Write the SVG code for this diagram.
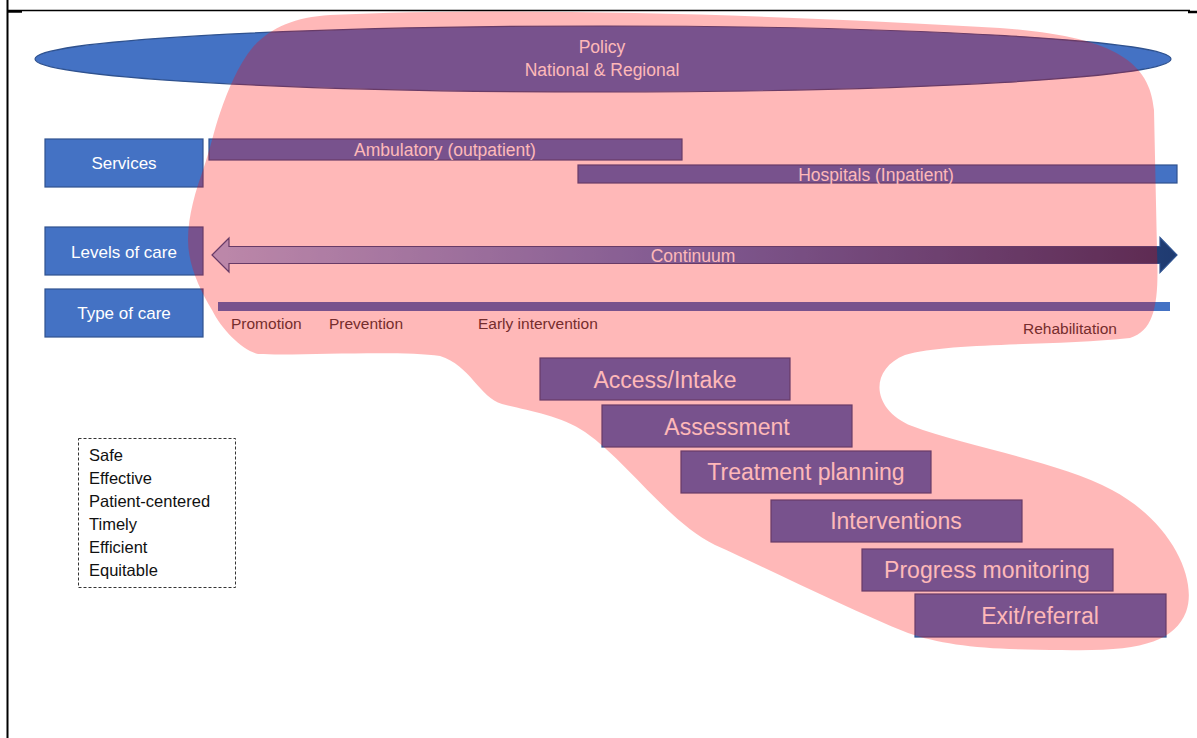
<svg xmlns="http://www.w3.org/2000/svg" width="1197" height="738" viewBox="0 0 1197 738">
  <style>
    .blue { fill: #4472C4; stroke: #2F528F; stroke-width: 1.2; }
    .lbl { font-family: "Liberation Sans", Arial, sans-serif; fill: #FFFFFF; text-anchor: middle; }
    .mid { font-size: 17.5px; }
    .big { font-size: 23px; }
    .care { font-family: "Liberation Sans", Arial, sans-serif; font-size: 15.5px; fill: #404040; }
    .qual { font-family: "Liberation Sans", Arial, sans-serif; font-size: 16.5px; fill: #111111; }
  </style>
  <defs>
    <linearGradient id="contGrad" gradientUnits="userSpaceOnUse" x1="212" y1="0" x2="1177" y2="0">
      <stop offset="0" stop-color="#A4BDEB"/>
      <stop offset="0.5" stop-color="#4F7BC8"/>
      <stop offset="1" stop-color="#1F3A70"/>
    </linearGradient>
  </defs>

  <rect width="1197" height="738" fill="#FFFFFF"/>

  <!-- page frame -->
  <g id="frame" stroke="#000000" fill="none">
    <line x1="7.5" y1="0" x2="7.5" y2="738" stroke-width="2"/>
    <line x1="7" y1="10.5" x2="1190" y2="10.5" stroke-width="1.5"/>
    <line x1="7" y1="11.5" x2="22" y2="11.5" stroke-width="2.5"/>
    <line x1="1188" y1="12" x2="1197" y2="12" stroke-width="2.5"/>
  </g>

  <!-- policy ellipse -->
  <g id="policy">
    <ellipse cx="603" cy="59" rx="568" ry="33" class="blue"/>
    <text class="lbl mid" x="602" y="53">Policy</text>
    <text class="lbl mid" x="602" y="76">National &amp; Regional</text>
  </g>

  <!-- row headers -->
  <g id="services">
    <rect x="45" y="139" width="158" height="48" class="blue"/>
    <text class="lbl" font-size="17" x="124" y="169">Services</text>
  </g>
  <g id="levels">
    <rect x="45" y="227" width="158" height="48" class="blue"/>
    <text class="lbl" font-size="17" x="124" y="258">Levels of care</text>
  </g>
  <g id="type">
    <rect x="45" y="289" width="158" height="48" class="blue"/>
    <text class="lbl" font-size="17" x="124" y="319">Type of care</text>
  </g>

  <!-- service bars -->
  <g id="ambulatory">
    <rect x="209" y="139" width="473" height="21" class="blue"/>
    <text class="lbl mid" x="445" y="156">Ambulatory (outpatient)</text>
  </g>
  <g id="hospitals">
    <rect x="578" y="165" width="599" height="18" class="blue"/>
    <text class="lbl mid" x="876" y="181">Hospitals (Inpatient)</text>
  </g>

  <!-- continuum arrow and type-of-care axis -->
  <g id="connectors">
    <path d="M212,255 L229,238 L229,246.5 L1160,246.5 L1160,237.5 L1177,255 L1160,272.5 L1160,263.5 L229,263.5 L229,272 Z" fill="url(#contGrad)" stroke="#2F528F" stroke-width="1.2"/>
    <rect x="218" y="302" width="952" height="9" fill="#4472C4"/>
  </g>
  <g id="continuum">
    <text class="lbl mid" x="693" y="262">Continuum</text>
  </g>
  <g id="care-types">
    <text class="care" x="231" y="329">Promotion</text>
    <text class="care" x="329" y="329">Prevention</text>
    <text class="care" x="478" y="329">Early intervention</text>
    <text class="care" x="1023" y="334">Rehabilitation</text>
  </g>

  <!-- process steps -->
  <g id="access">
    <rect x="540" y="358" width="250" height="42" class="blue"/>
    <text class="lbl big" x="665" y="388">Access/Intake</text>
  </g>
  <g id="assessment">
    <rect x="602" y="405" width="250" height="42" class="blue"/>
    <text class="lbl big" x="727" y="435">Assessment</text>
  </g>
  <g id="planning">
    <rect x="681" y="451" width="250" height="42" class="blue"/>
    <text class="lbl big" x="806" y="480">Treatment planning</text>
  </g>
  <g id="interventions">
    <rect x="771" y="500" width="251" height="42" class="blue"/>
    <text class="lbl big" x="896" y="529">Interventions</text>
  </g>
  <g id="monitoring">
    <rect x="862" y="549" width="251" height="42" class="blue"/>
    <text class="lbl big" x="987" y="578">Progress monitoring</text>
  </g>
  <g id="exit">
    <rect x="915" y="594" width="251" height="43" class="blue"/>
    <text class="lbl big" x="1040" y="624">Exit/referral</text>
  </g>

  <!-- translucent scope region laid over the care system -->
  <path id="scope" fill="#FF0000" fill-opacity="0.28"
        d="M330,15 C520,6 800,16 1000,28 C1110,36 1150,60 1154,110 L1157,250 C1159,300 1156,330 1130,338 C1060,346 950,342 905,355 C868,370 872,410 912,426 C965,446 1060,462 1112,490 C1172,522 1198,580 1186,612 C1174,642 1140,652 1062,650 C990,650 945,646 908,633 C850,610 775,572 715,545 C668,522 628,462 585,432 C560,415 525,410 502,404 C480,398 470,365 440,356 C400,350 300,356 258,354 C242,350 222,330 212,310 C200,290 188,265 188,240 C188,215 196,190 203,170 C210,150 214,130 220,113 C228,90 238,65 253,47 C270,28 295,17 330,15 Z"/>

  <!-- quality aims -->
  <g id="aims">
    <rect x="78.5" y="438.5" width="157" height="149" fill="none" stroke="#333333" stroke-width="1" stroke-dasharray="3,2"/>
    <text class="qual" x="89" y="461">Safe</text>
    <text class="qual" x="89" y="484">Effective</text>
    <text class="qual" x="89" y="507">Patient-centered</text>
    <text class="qual" x="89" y="530">Timely</text>
    <text class="qual" x="89" y="553">Efficient</text>
    <text class="qual" x="89" y="576">Equitable</text>
  </g>
</svg>
